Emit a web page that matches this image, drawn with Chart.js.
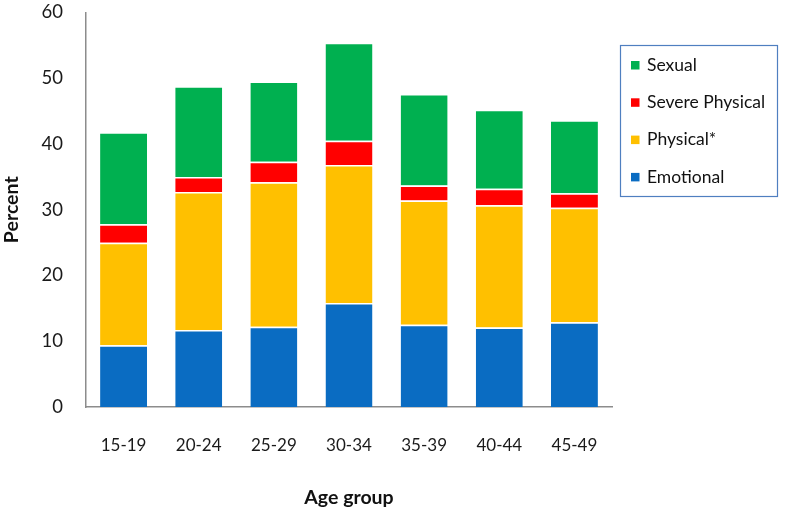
<!DOCTYPE html>
<html><head><meta charset="utf-8">
<script src="https://cdn.jsdelivr.net/npm/chart.js@4/dist/chart.umd.min.js"></script>
<style>html,body{margin:0;padding:0;background:#fff}#w{width:787px;height:515px}</style>
</head><body><div id="w"><canvas id="c" width="787" height="515"></canvas></div>
<script>
const categories = ["15-19","20-24","25-29","30-34","35-39","40-44","45-49"];
const emotional = [9.4, 11.7, 12.2, 15.8, 12.5, 12.1, 12.9];
const physical  = [15.6, 21.0, 22.0, 21.0, 18.9, 18.6, 17.4];
const severePhysical = [2.8, 2.3, 3.1, 3.7, 2.3, 2.5, 2.2];
const sexual    = [14.0, 13.8, 12.2, 14.9, 13.9, 12.0, 11.1];
const yTicks = [0,10,20,30,40,50,60];

const FONT = "Lato, 'Open Sans', sans-serif";
const seg = {borderColor:'#ffffff', borderWidth:{top:1.5,left:0,right:0,bottom:0}, borderSkipped:false, barPercentage:0.625, categoryPercentage:1};

const legendBox = {
  id:'legendBox',
  afterDraw(chart){
    const ctx = chart.ctx;
    const x0 = 620.5, y0 = 45.5, w = 157, h = 151;
    ctx.save();
    ctx.strokeStyle = '#4f7fc0'; ctx.lineWidth = 1.2;
    ctx.strokeRect(x0, y0, w, h);
    const ds = chart.data.datasets.slice().reverse();
    ctx.font = "17.5px " + FONT;
    ctx.textBaseline = 'middle';
    ds.forEach((d,i)=>{
      const cy = 65 + i*37.3;
      ctx.fillStyle = d.backgroundColor;
      ctx.fillRect(631, cy-4, 8.5, 8.5);
      ctx.fillStyle = '#111';
      ctx.fillText(d.label, 647, cy);
    });
    ctx.restore();
  }
};

new Chart(document.getElementById('c'), {
  type:'bar',
  data:{
    labels: categories,
    datasets:[
      {label:'Emotional', data: emotional, backgroundColor:'#0a6cc2', ...seg},
      {label:'Physical*', data: physical, backgroundColor:'#ffc000', ...seg},
      {label:'Severe Physical', data: severePhysical, backgroundColor:'#ff0000', ...seg},
      {label:'Sexual', data: sexual, backgroundColor:'#00b050', ...seg}
    ]
  },
  options:{
    responsive:false, animation:false,
    layout:{padding:{left:0, right:175, top:12.5, bottom:0}},
    plugins:{legend:{display:false}, tooltip:{enabled:false}},
    scales:{
      x:{stacked:true, grid:{display:false, drawTicks:false}, border:{color:'#8c8c8c', width:1.5},
         afterFit(axis){ axis.height = 108; },
         ticks:{color:'#1a1a1a', font:{family:FONT, size:17}, padding:28},
         title:{display:true, text:'Age group', color:'#111', font:{family:FONT, size:19.5, weight:'bold'}, padding:{top:0,bottom:6}}},
      y:{stacked:true, min:0, max:60, grid:{display:false, drawTicks:false}, border:{color:'#8c8c8c', width:1.5},
         afterFit(axis){ axis.width = 86; axis.paddingTop = 0; axis.paddingBottom = 0; },
         afterBuildTicks(axis){ axis.ticks = yTicks.map(v=>({value:v})); },
         ticks:{color:'#1a1a1a', font:{family:FONT, size:18.5}, padding:23},
         title:{display:true, text:'Percent', color:'#111', font:{family:FONT, size:19.5, weight:'bold'}, padding:{top:0,bottom:0}}}
    }
  },
  plugins:[legendBox]
});
</script></body></html>
